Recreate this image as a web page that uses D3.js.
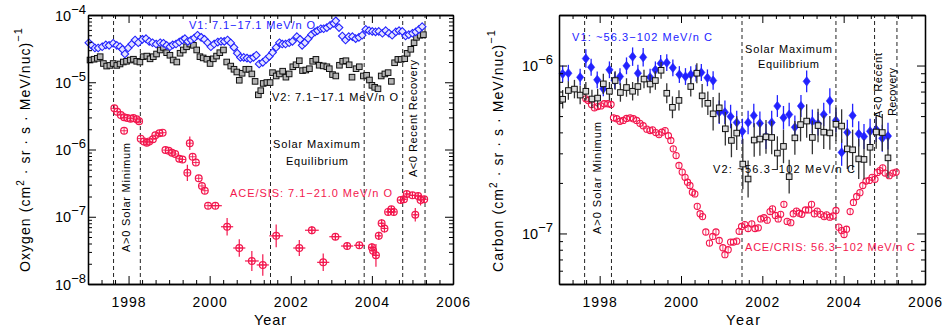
<!DOCTYPE html>
<html><head><meta charset="utf-8">
<script src="https://cdn.jsdelivr.net/npm/d3@7"></script>
<style>
body{margin:0;background:#fff;}
svg{display:block;font-family:"Liberation Sans",Arial,Helvetica,sans-serif;}
</style></head><body>
<svg id="c" width="945" height="331"></svg>
<script>
// ---------------- DATA ----------------
const yearTicks = [1998, 2000, 2002, 2004, 2006];
const oxyTicks = [1e-8, 1e-7, 1e-6, 1e-5, 1e-4];
const carbTicks = [1e-7, 1e-6];
const epochYears = [1997.63, 1998.29, 2001.5, 2003.81, 2004.76, 2005.31];

// Oxygen, Voyager 1 [year, flux]
const oxyV1 = [[1997.02,3.87e-5],[1997.09,3.54e-5],[1997.17,3.23e-5],[1997.25,3.23e-5],[1997.35,3.37e-5],[1997.44,3.6e-5],[1997.52,3.54e-5],[1997.62,3.8e-5],[1997.71,3.54e-5],[1997.79,3.37e-5],[1997.85,3.09e-5],[1997.91,2.63e-5],[1997.99,3.23e-5],[1998.08,3.7e-5],[1998.16,4.25e-5],[1998.24,3.87e-5],[1998.34,4.35e-5],[1998.43,4.45e-5],[1998.51,4.05e-5],[1998.59,3.87e-5],[1998.68,3.7e-5],[1998.78,3.87e-5],[1998.86,3.8e-5],[1998.94,3.54e-5],[1999.02,3.37e-5],[1999.09,3.6e-5],[1999.17,3.7e-5],[1999.25,3.96e-5],[1999.33,4.25e-5],[1999.39,4.45e-5],[1999.46,4.05e-5],[1999.54,4.25e-5],[1999.62,4.55e-5],[1999.70,5.0e-5],[1999.79,4.66e-5],[1999.87,4.35e-5],[1999.95,3.87e-5],[2000.03,3.37e-5],[2000.11,3.7e-5],[2000.20,3.96e-5],[2000.28,4.05e-5],[2000.36,4.05e-5],[2000.44,4.25e-5],[2000.52,3.85e-5],[2000.60,3.3e-5],[2000.68,2.7e-5],[2000.76,2.34e-5],[2000.84,2.34e-5],[2000.92,2.29e-5],[2001.00,2.23e-5],[2001.08,2.34e-5],[2001.15,2.52e-5],[2001.22,1.87e-5],[2001.31,1.98e-5],[2001.39,2.18e-5],[2001.47,2.42e-5],[2001.55,2.77e-5],[2001.64,3.29e-5],[2001.72,3.87e-5],[2001.79,3.7e-5],[2001.87,3.7e-5],[2001.96,3.87e-5],[2002.04,4.05e-5],[2002.15,4.76e-5],[2002.23,4.35e-5],[2002.28,3.54e-5],[2002.35,3.87e-5],[2002.43,4.45e-5],[2002.51,5.1e-5],[2002.60,5.6e-5],[2002.66,5.85e-5],[2002.74,6.25e-5],[2002.81,6.25e-5],[2002.89,6.5e-5],[2002.97,7.0e-5],[2003.06,7.5e-5],[2003.11,8.2e-5],[2003.19,6.5e-5],[2003.27,4.87e-5],[2003.35,4.25e-5],[2003.43,4.76e-5],[2003.52,4.76e-5],[2003.60,4.45e-5],[2003.68,4.66e-5],[2003.76,5.0e-5],[2003.85,6.1e-5],[2003.93,5.85e-5],[2004.01,5.7e-5],[2004.09,5.6e-5],[2004.17,5.7e-5],[2004.26,5.35e-5],[2004.34,5.85e-5],[2004.42,5.35e-5],[2004.50,5.0e-5],[2004.59,5.6e-5],[2004.67,5.85e-5],[2004.75,5.7e-5],[2004.83,4.87e-5],[2004.91,5.1e-5],[2005.00,5.35e-5],[2005.08,5.6e-5],[2005.16,6.1e-5],[2005.24,6.7e-5]];

// Oxygen, Voyager 2 [year, flux]
const oxyV2 = [[1997.05,2.14e-5],[1997.15,2.2e-5],[1997.23,2.27e-5],[1997.30,2.4e-5],[1997.38,1.9e-5],[1997.46,1.74e-5],[1997.54,1.78e-5],[1997.62,1.9e-5],[1997.71,1.78e-5],[1997.79,1.87e-5],[1997.87,2.0e-5],[1997.95,2.05e-5],[1998.04,2.14e-5],[1998.12,2.2e-5],[1998.20,2.05e-5],[1998.28,2.0e-5],[1998.36,2.4e-5],[1998.45,2.45e-5],[1998.53,2.23e-5],[1998.61,2.4e-5],[1998.69,2.63e-5],[1998.78,3.02e-5],[1998.86,3.3e-5],[1998.94,2.75e-5],[1999.02,2.52e-5],[1999.10,2.14e-5],[1999.19,2.0e-5],[1999.27,2.7e-5],[1999.35,3.02e-5],[1999.43,3.37e-5],[1999.51,3.7e-5],[1999.60,3.54e-5],[1999.68,3.02e-5],[1999.76,2.4e-5],[1999.84,2.3e-5],[1999.93,2.2e-5],[2000.01,1.9e-5],[2000.09,2.23e-5],[2000.17,2.45e-5],[2000.25,2.75e-5],[2000.34,3.02e-5],[2000.42,2.0e-5],[2000.52,1.74e-5],[2000.60,1.56e-5],[2000.67,1.42e-5],[2000.73,1.07e-5],[2000.80,1.36e-5],[2000.89,1.56e-5],[2000.97,1.56e-5],[2001.04,1.33e-5],[2001.12,1.03e-5],[2001.20,6.5e-6],[2001.26,7.5e-6],[2001.32,9.6e-6],[2001.41,9.9e-6],[2001.49,9.9e-6],[2001.55,1.39e-5],[2001.64,1.24e-5],[2001.72,1.33e-5],[2001.80,1.46e-5],[2001.88,1.19e-5],[2001.96,1.33e-5],[2002.05,1.7e-5],[2002.13,1.82e-5],[2002.21,2.09e-5],[2002.29,1.49e-5],[2002.37,1.52e-5],[2002.46,1.59e-5],[2002.54,2.05e-5],[2002.62,2.19e-5],[2002.70,1.79e-5],[2002.80,1.75e-5],[2002.89,1.7e-5],[2002.95,1.59e-5],[2003.03,1.3e-5],[2003.11,1.24e-5],[2003.20,1.79e-5],[2003.28,2.05e-5],[2003.36,2.09e-5],[2003.44,1.82e-5],[2003.51,1.19e-5],[2003.61,1.59e-5],[2003.69,1.7e-5],[2003.79,1.24e-5],[2003.87,1.27e-5],[2003.94,1.08e-5],[2004.00,9.0e-6],[2004.07,8.4e-6],[2004.15,8.0e-6],[2004.23,1.24e-5],[2004.32,1.33e-5],[2004.40,1.39e-5],[2004.48,1.03e-5],[2004.56,1.95e-5],[2004.64,2.19e-5],[2004.72,2.19e-5],[2004.81,2.24e-5],[2004.87,2.69e-5],[2004.96,3.09e-5],[2005.04,3.87e-5],[2005.10,4.66e-5],[2005.19,4.99e-5],[2005.27,5.1e-5]];

// Oxygen, ACE/SIS [year, flux, log10 half-error, year half-width]
const oxySIS = [[1997.65,4.1e-6,0,0],[1997.72,3.65e-6,0,0],[1997.81,3.26e-6,0,0],[1997.89,3.01e-6,0,0],[1997.89,1.9e-6,0,0],[1997.97,2.94e-6,0,0],[1998.05,2.87e-6,0,0],[1998.12,2.94e-6,0,0],[1998.20,2.81e-6,0,0],[1998.26,2.63e-6,0,0],[1998.30,1.45e-6,0,0],[1998.38,1.32e-6,0,0],[1998.45,1.26e-6,0,0],[1998.51,1.32e-6,0,0],[1998.60,1.42e-6,0,0],[1998.66,1.63e-6,0,0],[1998.76,1.74e-6,0,0],[1998.84,1.78e-6,0,0],[1998.91,9.8e-7,0,0],[1998.99,9.6e-7,0,0],[1999.07,8.96e-7,0,0],[1999.15,8.57e-7,0,0],[1999.25,7.3e-7,0,0],[1999.33,7.1e-7,0,0],[1999.45,4.5e-7,0.12,0],[1999.51,1.24e-6,0.1,0],[1999.58,7.8e-7,0,0],[1999.66,6.4e-7,0,0],[1999.73,3.73e-7,0,0],[1999.81,2.87e-7,0,0],[1999.88,2.44e-7,0,0],[1999.96,1.46e-7,0,0],[2000.14,1.46e-7,0,0.16],[2000.43,7.1e-8,0.13,0.15],[2000.73,3.43e-8,0.13,0.15],[2001.04,2.2e-8,0.15,0.17],[2001.31,1.92e-8,0.16,0.15],[2001.64,5.2e-8,0.17,0.17],[2002.21,3.43e-8,0.12,0.15],[2002.52,6.3e-8,0.06,0.17],[2002.80,2.1e-8,0.13,0.15],[2003.10,5.05e-8,0.05,0.15],[2003.39,3.67e-8,0.06,0.15],[2003.69,3.76e-8,0.04,0.13],[2004.00,3.51e-8,0.06,0.08],[2004.03,3.13e-8,0.08,0.06],[2004.10,2.67e-8,0.17,0.06],[2004.17,5.2e-8,0.06,0.05],[2004.24,8.0e-8,0.06,0.05],[2004.31,6.7e-8,0.06,0.05],[2004.40,1.18e-7,0.05,0.05],[2004.48,1.29e-7,0.05,0.05],[2004.54,1.18e-7,0.05,0.05],[2004.71,1.77e-7,0.05,0.05],[2004.79,1.82e-7,0.05,0.05],[2004.86,2.18e-7,0.05,0.05],[2005.00,2.08e-7,0.05,0.05],[2005.07,1.07e-7,0.1,0.05],[2005.14,2.04e-7,0.05,0.05],[2005.20,1.77e-7,0.08,0.05],[2005.29,1.82e-7,0.05,0.05]];

// Carbon, Voyager 1 [year, flux, log10 half-error]
const carbV1 = [[1997.09,8.93e-7,0.05],[1997.23,9.0e-7,0.05],[1997.52,8.52e-7,0.05],[1997.66,1.10e-6,0.055],[1997.79,9.77e-7,0.05],[1997.94,8.22e-7,0.05],[1998.09,7.27e-7,0.045],[1998.24,9.43e-7,0.05],[1998.37,8.14e-7,0.05],[1998.50,8.6e-7,0.05],[1998.66,9.96e-7,0.05],[1998.81,1.13e-6,0.055],[1998.94,9.0e-7,0.05],[1999.07,1.12e-6,0.055],[1999.24,8.52e-7,0.05],[1999.37,9.43e-7,0.05],[1999.50,1.03e-6,0.05],[1999.65,1.04e-6,0.05],[1999.80,9.69e-7,0.05],[1999.96,8.84e-7,0.05],[2000.11,8.6e-7,0.05],[2000.24,8.84e-7,0.05],[2000.37,9.0e-7,0.05],[2000.50,9.09e-7,0.05],[2000.65,8.45e-7,0.05],[2000.79,8.14e-7,0.055],[2000.94,5.27e-7,0.07],[2001.08,5.27e-7,0.07],[2001.22,4.97e-7,0.07],[2001.37,4.58e-7,0.07],[2001.51,4.06e-7,0.075],[2001.65,4.58e-7,0.07],[2001.79,5.04e-7,0.07],[2001.94,4.53e-7,0.07],[2002.09,3.78e-7,0.075],[2002.23,4.58e-7,0.07],[2002.37,5.74e-7,0.065],[2002.52,4.89e-7,0.07],[2002.66,5.11e-7,0.07],[2002.80,4.29e-7,0.07],[2002.95,5.74e-7,0.065],[2003.09,8.05e-7,0.065],[2003.23,4.66e-7,0.07],[2003.37,4.5e-7,0.07],[2003.51,5.11e-7,0.07],[2003.66,6.16e-7,0.075],[2003.81,4.71e-7,0.07],[2003.95,3.04e-7,0.08],[2004.09,4.0e-7,0.075],[2004.22,5.04e-7,0.07],[2004.37,3.92e-7,0.075],[2004.50,3.78e-7,0.075],[2004.65,4.06e-7,0.075],[2004.80,4.16e-7,0.075],[2004.95,3.69e-7,0.08],[2005.09,3.8e-7,0.08]];

// Carbon, Voyager 2 [year, flux, log10 half-error]
const carbV2 = [[1997.09,6.3e-7,0.055],[1997.23,7.1e-7,0.055],[1997.38,7.24e-7,0.055],[1997.52,6.67e-7,0.055],[1997.66,7.03e-7,0.055],[1997.81,6.32e-7,0.055],[1997.95,6.4e-7,0.055],[1998.09,7.78e-7,0.06],[1998.24,7.03e-7,0.055],[1998.38,8.14e-7,0.055],[1998.51,6.91e-7,0.055],[1998.66,7.4e-7,0.055],[1998.81,7.03e-7,0.055],[1998.94,7.5e-7,0.055],[1999.09,8.31e-7,0.055],[1999.24,7.76e-7,0.055],[1999.37,8.14e-7,0.055],[1999.51,9.37e-7,0.05],[1999.65,6.84e-7,0.06],[1999.79,5.64e-7,0.065],[1999.95,6.2e-7,0.06],[2000.24,7.5e-7,0.06],[2000.39,9.0e-7,0.06],[2000.52,6.6e-7,0.07],[2000.66,5.96e-7,0.07],[2000.79,5.16e-7,0.1],[2000.94,5.6e-7,0.09],[2001.09,4.2e-7,0.1],[2001.24,3.58e-7,0.1],[2001.37,3.96e-7,0.1],[2001.52,2.59e-7,0.15],[2001.65,2.11e-7,0.11],[2001.80,3.6e-7,0.1],[2001.94,3.65e-7,0.1],[2002.09,3.76e-7,0.1],[2002.23,3.73e-7,0.1],[2002.37,3.01e-7,0.1],[2002.52,3.3e-7,0.1],[2002.66,2.18e-7,0.1],[2002.80,3.71e-7,0.1],[2002.94,4.45e-7,0.1],[2003.09,4.67e-7,0.1],[2003.23,3.73e-7,0.1],[2003.37,4.39e-7,0.1],[2003.51,4.01e-7,0.1],[2003.66,3.97e-7,0.1],[2003.81,4.47e-7,0.1],[2003.95,4.36e-7,0.1],[2004.09,3.19e-7,0.12],[2004.22,3.15e-7,0.12],[2004.37,2.78e-7,0.12],[2004.50,2.76e-7,0.12],[2004.65,3.26e-7,0.11],[2004.80,4.02e-7,0.1],[2004.95,3.99e-7,0.11],[2005.09,2.82e-7,0.12]];

// Carbon, ACE/CRIS [year, flux]
const carbCRIS = [[1997.66,6.34e-7],[1997.72,6.19e-7],[1997.80,5.86e-7],[1997.87,5.6e-7],[1997.95,5.7e-7],[1998.03,5.75e-7],[1998.11,5.92e-7],[1998.20,5.92e-7],[1998.28,5.86e-7],[1998.34,4.88e-7],[1998.42,4.82e-7],[1998.50,4.66e-7],[1998.58,4.71e-7],[1998.66,4.84e-7],[1998.75,4.88e-7],[1998.83,4.82e-7],[1998.91,4.71e-7],[1998.99,4.53e-7],[1999.07,4.38e-7],[1999.16,4.18e-7],[1999.24,4.1e-7],[1999.30,4.14e-7],[1999.38,3.99e-7],[1999.46,3.88e-7],[1999.53,4.01e-7],[1999.61,4.1e-7],[1999.69,3.82e-7],[1999.75,3.58e-7],[1999.81,3.19e-7],[1999.88,2.91e-7],[1999.95,2.54e-7],[2000.03,2.32e-7],[2000.10,2.16e-7],[2000.16,2.02e-7],[2000.22,1.93e-7],[2000.28,1.76e-7],[2000.34,1.72e-7],[2000.40,1.45e-7],[2000.47,1.31e-7],[2000.53,1.26e-7],[2000.61,1.02e-7],[2000.70,8.76e-8],[2000.78,9.6e-8],[2000.86,1.02e-7],[2000.94,9.08e-8],[2001.03,8.22e-8],[2001.08,7.47e-8],[2001.16,8.0e-8],[2001.22,8.88e-8],[2001.29,8.88e-8],[2001.37,9.0e-8],[2001.43,1.03e-7],[2001.49,1.1e-7],[2001.57,1.13e-7],[2001.65,1.07e-7],[2001.74,1.14e-7],[2001.82,1.07e-7],[2001.90,1.08e-7],[2001.96,1.22e-7],[2002.04,1.24e-7],[2002.12,1.2e-7],[2002.19,1.35e-7],[2002.25,1.4e-7],[2002.32,1.28e-7],[2002.39,1.22e-7],[2002.45,1.3e-7],[2002.53,1.49e-7],[2002.61,1.18e-7],[2002.70,1.16e-7],[2002.76,1.31e-7],[2002.84,1.36e-7],[2002.91,1.32e-7],[2002.97,1.3e-7],[2003.06,1.38e-7],[2003.14,1.38e-7],[2003.21,1.49e-7],[2003.28,1.31e-7],[2003.35,1.36e-7],[2003.43,1.3e-7],[2003.52,1.26e-7],[2003.58,1.29e-7],[2003.66,1.25e-7],[2003.74,1.27e-7],[2003.81,1.37e-7],[2003.88,1.09e-7],[2003.95,1.04e-7],[2004.01,9.86e-8],[2004.07,1.06e-7],[2004.16,1.35e-7],[2004.24,1.53e-7],[2004.32,1.66e-7],[2004.40,1.75e-7],[2004.47,1.93e-7],[2004.55,2.05e-7],[2004.63,2.07e-7],[2004.70,2.16e-7],[2004.77,2.1e-7],[2004.83,2.31e-7],[2004.89,2.37e-7],[2004.96,2.46e-7],[2005.02,2.29e-7],[2005.12,2.21e-7],[2005.21,2.29e-7],[2005.29,2.32e-7]];

// ---------------- DRAWING ----------------
const svg = d3.select('#c');
const BLUE = '#2222ff', RED = '#f3174e', FONT = '"Liberation Sans",Arial,Helvetica,sans-serif';

const xL = d3.scaleLinear().domain([1997, 2006]).range([88, 453]);
const yL = d3.scaleLog().domain([1e-8, 1e-4]).range([284, 15]);
const xR = d3.scaleLinear().domain([1997, 2006]).range([559, 925]);
const yR = d3.scaleLog().domain([5e-8, 2e-6]).range([284, 15]);

function epochLines(g, x, y) {
  g.selectAll(null).data(epochYears).join('line')
    .attr('x1', d => x(d)).attr('x2', d => x(d))
    .attr('y1', y.range()[0]).attr('y2', y.range()[1])
    .attr('stroke', '#222').attr('stroke-width', 1).attr('stroke-dasharray', '4,3');
}

function frame(g, x, y, majorY, padY) {
  const [yb, yt] = y.range(), [xl, xr] = x.range();
  const minorX = d3.range(0, 28).map(i => 1997 + i / 3)
    .filter(v => !(Math.abs(v - Math.round(v)) < 1e-6 && Math.round(v) % 2 === 0));
  const [d0, d1] = y.domain(), minorY = [];
  for (let e = Math.floor(Math.log10(d0)); e <= Math.ceil(Math.log10(d1)); e++)
    for (let m = 2; m <= 9; m++) { const v = m * Math.pow(10, e); if (v > d0 * 1.001 && v < d1 * 0.999) minorY.push(v); }
  const none = () => '';
  const add = (ax, tr) => g.append('g').attr('transform', tr).call(ax);
  add(d3.axisBottom(x).tickValues(minorX).tickSize(-4).tickSizeOuter(0).tickFormat(none), `translate(0,${yb})`);
  add(d3.axisTop(x).tickValues(minorX).tickSize(-4).tickSizeOuter(0).tickFormat(none), `translate(0,${yt})`);
  add(d3.axisTop(x).tickValues(yearTicks).tickSize(-8).tickSizeOuter(0).tickFormat(none), `translate(0,${yt})`);
  add(d3.axisLeft(y).tickValues(minorY).tickSize(-4).tickSizeOuter(0).tickFormat(none), `translate(${xl},0)`);
  add(d3.axisRight(y).tickValues(minorY).tickSize(-4).tickSizeOuter(0).tickFormat(none), `translate(${xr},0)`);
  add(d3.axisRight(y).tickValues(majorY).tickSize(-8).tickSizeOuter(0).tickFormat(none), `translate(${xr},0)`);
  const bx = add(d3.axisBottom(x).tickValues(yearTicks).tickSize(-8).tickSizeOuter(0).tickPadding(13).tickFormat(d3.format('d')), `translate(0,${yb})`);
  bx.selectAll('text').attr('font-size', 14).attr('letter-spacing', '1px').attr('fill', '#000');
  const ly = add(d3.axisLeft(y).tickValues(majorY).tickSize(-8).tickSizeOuter(0).tickPadding(padY).tickFormat(none), `translate(${xl},0)`);
  ly.selectAll('.tick text').each(function (d) {
    const t = d3.select(this).attr('font-size', 14.5).attr('fill', '#000').attr('dy', '5');
    t.append('tspan').text('10');
    t.append('tspan').attr('dy', -7).attr('font-size', 13).text('\u2212' + Math.abs(Math.round(Math.log10(d))));
  });
  g.selectAll('.domain').attr('stroke', '#000').attr('stroke-width', 1.3);
  g.selectAll('.tick line').attr('stroke', '#000').attr('stroke-width', 1);
  g.selectAll('g').attr('font-family', FONT);
}

function label(g, txt, x, y, len, color, opts = {}) {
  const t = g.append('text').attr('font-size', opts.size || 11).attr('fill', color)
    .attr('font-family', FONT).attr('textLength', len).attr('lengthAdjust', 'spacing').text(txt);
  if (opts.rot) t.attr('transform', `translate(${x},${y}) rotate(-90)`);
  else t.attr('x', x).attr('y', y);
  return t;
}

function axisTitle(g, name, x, y, len) {
  const t = g.append('text').attr('transform', `translate(${x},${y}) rotate(-90)`)
    .attr('text-anchor', 'middle').attr('font-size', 14).attr('font-family', FONT)
    .attr('textLength', len).attr('lengthAdjust', 'spacing');
  t.append('tspan').text(name + ' (cm');
  t.append('tspan').attr('dy', -6).attr('font-size', 10).text('2');
  t.append('tspan').attr('dy', 6).text(' \u00b7 sr \u00b7 s \u00b7 MeV/nuc)');
  t.append('tspan').attr('dy', -8).attr('font-size', 11).text('\u22121');
}

const diamondOpen = 'M0,-3.8L3.8,0L0,3.8L-3.8,0Z';
const diamondFill = 'M0,-4.6L3.6,0L0,4.6L-3.6,0Z';

// ---------- LEFT PANEL (Oxygen) ----------
const gL = svg.append('g');
epochLines(gL, xL, yL);

gL.selectAll(null).data(oxyV2).join('rect')
  .attr('x', d => xL(d[0]) - 2.8).attr('y', d => yL(d[1]) - 2.8).attr('width', 5.6).attr('height', 5.6)
  .attr('fill', '#b4b4b4').attr('stroke', '#111').attr('stroke-width', 1);
gL.selectAll(null).data(oxyV1).join('path')
  .attr('transform', d => `translate(${xL(d[0])},${yL(d[1])})`).attr('d', diamondOpen)
  .attr('fill', '#e4e4ff').attr('stroke', BLUE).attr('stroke-width', 1.1);
const sis = gL.selectAll(null).data(oxySIS).join('g')
  .attr('transform', d => `translate(${xL(d[0])},${yL(d[1])})`);
sis.filter(d => d[2] > 0).append('line')
  .attr('y1', d => yL(d[1] * Math.pow(10, d[2])) - yL(d[1])).attr('y2', d => yL(d[1] / Math.pow(10, d[2])) - yL(d[1]))
  .attr('stroke', RED).attr('stroke-width', 1.2);
sis.filter(d => d[3] > 0).append('line')
  .attr('x1', d => xL(d[0] - d[3]) - xL(d[0])).attr('x2', d => xL(d[0] + d[3]) - xL(d[0]))
  .attr('stroke', RED).attr('stroke-width', 1.2);
sis.append('circle').attr('r', 3.4).attr('fill', 'none').attr('stroke', RED).attr('stroke-width', 1.2);
sis.append('path').attr('d', 'M-3.4,0H3.4M0,-3.4V3.4').attr('stroke', RED).attr('stroke-width', 0.9);

frame(gL, xL, yL, oxyTicks, 2);

label(gL, 'V1: 7.1\u221217.1 MeV/n O', 189, 29, 126, BLUE);
label(gL, 'V2: 7.1\u221217.1 MeV/n O', 272, 101, 126, '#000');
label(gL, 'Solar Maximum', 273, 148, 87, '#000');
label(gL, 'Equilibrium', 286, 165, 62, '#000');
label(gL, 'ACE/SIS: 7.1\u221221.0 MeV/n O', 230, 197, 162, RED);
label(gL, 'A>0 Solar Minimum', 130, 252, 109, '#000', { rot: true });
label(gL, 'A<0 Recent Recovery', 417, 177, 117, '#000', { rot: true });
axisTitle(gL, 'Oxygen', 30, 150, 244);
gL.append('text').attr('x', 270).attr('y', 325).attr('text-anchor', 'middle').attr('font-size', 14.5)
  .attr('font-family', FONT).attr('textLength', 32).text('Year');

// ---------- RIGHT PANEL (Carbon) ----------
const gR = svg.append('g');
epochLines(gR, xR, yR);

const cr = gR.selectAll(null).data(carbCRIS).join('g')
  .attr('transform', d => `translate(${xR(d[0])},${yR(d[1])})`);
cr.append('circle').attr('r', 3.1).attr('fill', 'none').attr('stroke', RED).attr('stroke-width', 1.1);
cr.append('line').attr('y1', -3.1).attr('y2', 3.1).attr('stroke', RED).attr('stroke-width', 0.8);

gR.selectAll(null).data(carbV1).join('line')
  .attr('x1', d => xR(d[0])).attr('x2', d => xR(d[0]))
  .attr('y1', d => yR(d[1] * Math.pow(10, d[2]))).attr('y2', d => yR(d[1] / Math.pow(10, d[2])))
  .attr('stroke', BLUE).attr('stroke-width', 1.3);
gR.selectAll(null).data(carbV1).join('path')
  .attr('transform', d => `translate(${xR(d[0])},${yR(d[1])})`).attr('d', diamondFill)
  .attr('fill', BLUE).attr('stroke', BLUE).attr('stroke-width', 0.6);

gR.selectAll(null).data(carbV2).join('line')
  .attr('x1', d => xR(d[0])).attr('x2', d => xR(d[0]))
  .attr('y1', d => yR(d[1] * Math.pow(10, d[2]))).attr('y2', d => yR(d[1] / Math.pow(10, d[2])))
  .attr('stroke', '#333').attr('stroke-width', 1.3);
gR.selectAll(null).data(carbV2).join('rect')
  .attr('x', d => xR(d[0]) - 2.8).attr('y', d => yR(d[1]) - 2.8).attr('width', 5.6).attr('height', 5.6)
  .attr('fill', '#dcdcdc').attr('stroke', '#111').attr('stroke-width', 1);

frame(gR, xR, yR, carbTicks, 6);

label(gR, 'V1: ~56.3\u2212102 MeV/n C', 572, 41, 140, BLUE);
label(gR, 'Solar Maximum', 745, 53, 87, '#000');
label(gR, 'Equilibrium', 758, 68, 61, '#000');
label(gR, 'A>0 Solar Minimum', 601, 234, 112, '#000', { rot: true });
label(gR, 'A<0 Recent', 882, 118, 65, '#000', { rot: true });
label(gR, 'Recovery', 896, 116, 48, '#000', { rot: true });
label(gR, 'V2: ~56.3\u2212102 MeV/n C', 713, 173, 142, '#000');
label(gR, 'ACE/CRIS: 56.3\u2212102 MeV/n C', 745, 251, 170, RED);
axisTitle(gR, 'Carbon', 503, 151, 242);
gR.append('text').attr('x', 743).attr('y', 325).attr('text-anchor', 'middle').attr('font-size', 14.5)
  .attr('font-family', FONT).attr('textLength', 34).text('Year');
</script>
</body></html>
